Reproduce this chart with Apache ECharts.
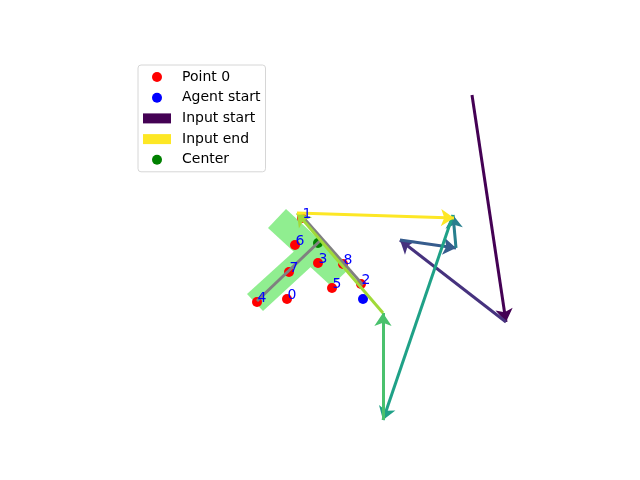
<!DOCTYPE html>
<html>
<head>
<meta charset="utf-8">
<script src="https://cdn.jsdelivr.net/npm/echarts@6/dist/echarts.min.js"></script>
<style>
  html, body { margin: 0; padding: 0; background: #fff; }
  #chart { width: 640px; height: 480px; }
</style>
</head>
<body>
<div id="chart"></div>
<script>
// numbered points (red) with their ids
const pointIds = [0, 1, 2, 3, 4, 5, 6, 7, 8]
const pointX = [287, 302, 361, 318, 257, 332, 295, 289, 343]
const pointY = [299, 218, 284, 263, 302, 288, 245, 272, 264]

const agentStart = [363, 299]
const center = [318, 243]

// input path, one arrow between each pair of consecutive points
const pathX = [472, 506, 400, 456, 453, 383, 383, 297, 454]
const pathY = [95, 322, 240, 248, 215, 420, 313, 213, 218]
const pathColors = ['#440154', '#46327e', '#365c8d', '#277f8e', '#1fa187', '#4ac16d', '#a0da39', '#fde725']

// gray skeleton segments
const skeleton = [
  [[257, 301], [322, 239]],
  [[301, 215], [363, 285]],
]

// green mask, two bars given by their corners
const maskBars = [
  [[286, 209], [268, 228], [331, 286], [350, 268]],
  [[247, 294], [263, 311], [327, 252], [312, 235]],
]

const chart = echarts.init(document.getElementById('chart'))

const arrows = []
for (let i = 0; i < pathX.length - 1; i++) {
  arrows.push({
    coords: [[pathX[i], pathY[i]], [pathX[i + 1], pathY[i + 1]]],
    lineStyle: { color: pathColors[i] },
  })
}

const points = pointIds.map((id, i) => [pointX[i], pointY[i], id])

const option = {
  animation: false,
  grid: { left: 0, right: 0, top: 0, bottom: 0 },
  xAxis: { type: 'value', min: 0, max: 640, show: false },
  yAxis: { type: 'value', min: 0, max: 480, inverse: true, show: false },
  legend: {
    left: 138,
    top: 65,
    orient: 'vertical',
    selectedMode: false,
    backgroundColor: '#fff',
    borderColor: '#d6d6d6',
    borderWidth: 1,
    borderRadius: 3,
    padding: [5, 5, 5, 5],
    itemWidth: 28,
    itemHeight: 10,
    itemGap: 6.7,
    textStyle: {
      fontFamily: 'DejaVu Sans',
      fontSize: 14,
      lineHeight: 14,
      color: '#000',
      padding: [0, 0, 0, 6],
    },
    data: [
      { name: 'Point 0', icon: 'circle' },
      { name: 'Agent start', icon: 'circle' },
      { name: 'Input start', icon: 'rect' },
      { name: 'Input end', icon: 'rect' },
      { name: 'Center', icon: 'circle' },
    ],
  },
  series: [
    {
      name: 'mask',
      type: 'custom',
      z: 1,
      silent: true,
      data: maskBars.map((b, i) => [i]),
      renderItem: (params, api) => {
        const bar = maskBars[api.value(0)]
        return {
          type: 'polygon',
          shape: { points: bar.map((p) => api.coord(p)) },
          style: { fill: '#90ee90' },
        }
      },
    },
    {
      name: 'Point 0',
      type: 'scatter',
      z: 2,
      symbolSize: 10,
      itemStyle: { color: '#ff0000', opacity: 1 },
      data: points,
    },
    {
      name: 'Agent start',
      type: 'scatter',
      z: 2,
      symbolSize: 10,
      itemStyle: { color: '#0000ff', opacity: 1 },
      data: [agentStart],
    },
    {
      name: 'Center',
      type: 'scatter',
      z: 2,
      symbolSize: 10,
      itemStyle: { color: '#008000', opacity: 1 },
      data: [center],
    },
    {
      name: 'skeleton',
      type: 'lines',
      coordinateSystem: 'cartesian2d',
      z: 3,
      symbol: 'none',
      lineStyle: { color: '#808080', width: 3, opacity: 1 },
      data: skeleton.map((s) => ({ coords: s })),
    },
    {
      name: 'path',
      type: 'lines',
      coordinateSystem: 'cartesian2d',
      z: 4,
      symbol: ['none', 'arrow'],
      symbolSize: [7, 13],
      lineStyle: { width: 3, opacity: 1 },
      data: arrows,
    },
    {
      name: 'Input start',
      type: 'scatter',
      itemStyle: { color: pathColors[0], opacity: 1 },
      data: [],
    },
    {
      name: 'Input end',
      type: 'scatter',
      itemStyle: { color: pathColors[pathColors.length - 1], opacity: 1 },
      data: [],
    },
    {
      name: 'ids',
      type: 'scatter',
      z: 5,
      symbolSize: 2,
      itemStyle: { color: 'rgba(0,0,0,0)', opacity: 1 },
      data: points,
      label: {
        show: true,
        position: [1.5, 4],
        align: 'left',
        verticalAlign: 'bottom',
        formatter: (p) => String(p.value[2]),
        fontFamily: 'DejaVu Sans',
        fontSize: 14,
        color: '#0000ff',
      },
    },
  ],
}

chart.setOption(option)
</script>
</body>
</html>
